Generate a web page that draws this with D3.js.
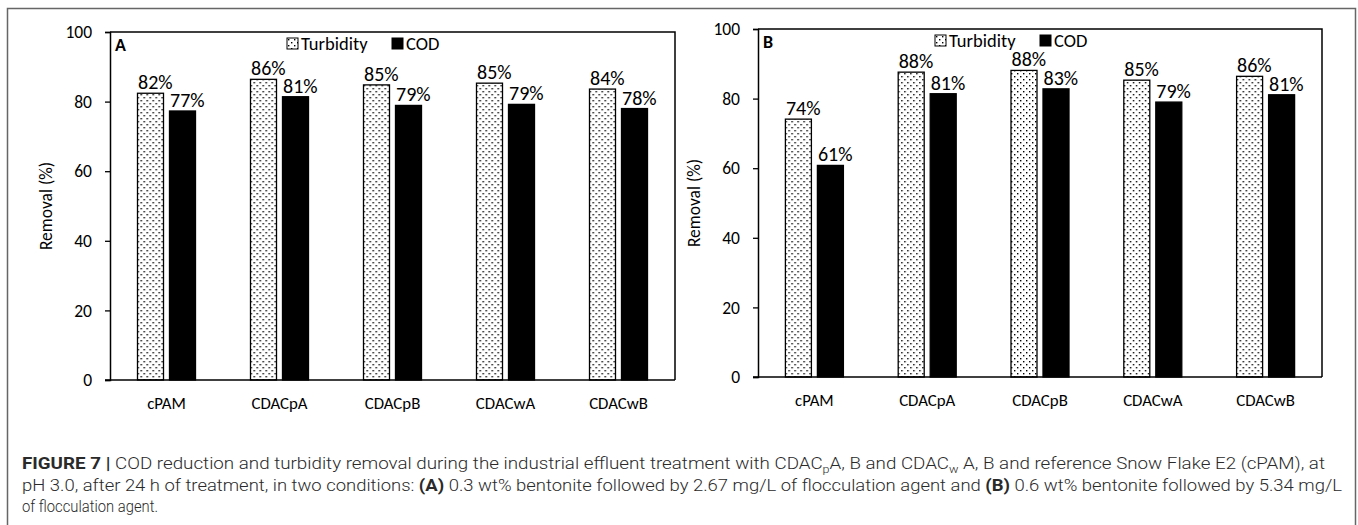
<!DOCTYPE html>
<html>
<head>
<meta charset="utf-8">
<script src="https://cdn.jsdelivr.net/npm/d3@7/dist/d3.min.js"></script>
<style>
  html, body { margin: 0; padding: 0; background: #fff; }
  svg { display: block; }
</style>
</head>
<body>
<svg id="chart" width="1358" height="525"></svg>
<script>
// ---------- data ----------
const categories = ["cPAM", "CDACpA", "CDACpB", "CDACwA", "CDACwB"];
const seriesNames = ["Turbidity", "COD"];
const turbidityA = [82.4, 86.4, 84.8, 85.3, 83.6];
const codA = [77.3, 81.4, 78.9, 79.2, 78.0];
const turbidityB = [74.1, 87.6, 88.1, 85.3, 86.4];
const codB = [60.8, 81.4, 82.8, 79.0, 81.1];
const yTicks = [0, 20, 40, 60, 80, 100];
const yTitle = "Removal (%)";
const panelLabels = ["A", "B"];

const svg = d3.select("#chart");
const chartFont = "Carlito, Lato, 'Open Sans', sans-serif";

// pattern for turbidity bars
const defs = svg.append("defs");
const pat = defs.append("pattern").attr("id", "dots")
  .attr("patternUnits", "userSpaceOnUse").attr("width", 6).attr("height", 6);
pat.append("rect").attr("width", 6).attr("height", 6).attr("fill", "#fff");
pat.append("rect").attr("x", 1).attr("y", 1).attr("width", 1.4).attr("height", 1.4).attr("fill", "#000");
pat.append("rect").attr("x", 4).attr("y", 4).attr("width", 1.4).attr("height", 1.4).attr("fill", "#000");

// outer frame
svg.append("path").attr("d", "M7.5,525 V8.5 H1355.5 V525")
  .attr("fill", "none").attr("stroke", "#666").attr("stroke-width", 1.5);

function drawPanel(cfg) {
  const { left, right, top, bottom, turb, cod, label, titleX } = cfg;
  const g = svg.append("g");
  const x0 = d3.scaleBand().domain(categories).range([left, right]).paddingInner(0).paddingOuter(0);
  const x1 = d3.scaleBand().domain(seriesNames).range([-29, 29]).paddingInner(0.1875);
  const y = d3.scaleLinear().domain([0, 100]).range([bottom, top]);

  // plot box (top & right)
  g.append("path")
    .attr("d", `M${left},${top} H${right} V${bottom}`)
    .attr("fill", "none").attr("stroke", "#000").attr("stroke-width", 1.5);

  // bars
  const data = categories.map((c, i) => ({ c, vals: [turb[i], cod[i]] }));
  const grp = g.selectAll("g.grp").data(data).join("g")
    .attr("transform", d => `translate(${x0(d.c) + x0.bandwidth() / 2},0)`);
  grp.selectAll("rect").data(d => d.vals.map((v, j) => ({ s: seriesNames[j], v })))
    .join("rect")
    .attr("x", d => x1(d.s))
    .attr("y", d => y(d.v))
    .attr("width", x1.bandwidth())
    .attr("height", d => y(0) - y(d.v))
    .attr("fill", d => d.s === "Turbidity" ? "url(#dots)" : "#000")
    .attr("stroke", "#000").attr("stroke-width", 1.3);
  grp.selectAll("text").data(d => d.vals.map((v, j) => ({ s: seriesNames[j], v })))
    .join("text")
    .attr("x", d => x1(d.s) + 0.5)
    .attr("y", d => y(d.v) - 4)
    .attr("font-family", chartFont).attr("font-size", 20).attr("fill", "#000")
    .text(d => Math.round(d.v) + "%");

  // y axis
  const ya = g.append("g").attr("transform", `translate(${left},0)`)
    .call(d3.axisLeft(y).tickValues(yTicks).tickSize(5).tickPadding(13));
  ya.select(".domain").attr("stroke-width", 1.5);
  ya.selectAll(".tick line").attr("stroke-width", 1.3);
  ya.selectAll("text").attr("font-family", chartFont).attr("font-size", 17.5).attr("fill", "#000");

  // x axis
  const xa = g.append("g").attr("transform", `translate(0,${bottom})`)
    .call(d3.axisBottom(x0).tickSize(0).tickPadding(17));
  xa.select(".domain").remove();
  g.append("line").attr("x1", left - 5).attr("x2", right).attr("y1", bottom).attr("y2", bottom)
    .attr("stroke", "#000").attr("stroke-width", 1.5);
  xa.selectAll("text").attr("font-family", chartFont).attr("font-size", 16.8).attr("fill", "#000");

  // y title
  g.append("text").attr("transform", `translate(${titleX},${(top + bottom) / 2}) rotate(-90)`)
    .attr("text-anchor", "middle").attr("font-family", chartFont).attr("font-size", 17.5)
    .text(yTitle);

  // panel label
  g.append("text").attr("x", left + 5).attr("y", top + 19)
    .attr("font-family", chartFont).attr("font-weight", "bold").attr("font-size", 18)
    .text(label);

  // legend
  const lg = g.append("g").attr("transform", `translate(${left + 177},${top + 6})`);
  const items = [{ s: "Turbidity", dx: 0 }, { s: "COD", dx: 105 }];
  items.forEach(it => {
    lg.append("rect").attr("x", it.dx).attr("y", 0).attr("width", 11).attr("height", 11)
      .attr("fill", it.s === "Turbidity" ? "url(#dots)" : "#000")
      .attr("stroke", "#000").attr("stroke-width", 1);
    lg.append("text").attr("x", it.dx + 14).attr("y", 11.5)
      .attr("font-family", chartFont).attr("font-size", 18.5).text(it.s);
  });
}

drawPanel({ left: 110, right: 675, top: 32, bottom: 380, turb: turbidityA, cod: codA, label: panelLabels[0], titleX: 52 });
drawPanel({ left: 758, right: 1322, top: 29, bottom: 377, turb: turbidityB, cod: codB, label: panelLabels[1], titleX: 700 });

// caption
const capFont = "Roboto, 'Liberation Sans', sans-serif";
const cap = svg.append("g").attr("font-family", capFont).attr("font-size", 16.5)
  .attr("font-weight", 300).attr("fill", "#2a2a2a");
const l1 = cap.append("text").attr("x", 22).attr("y", 469)
  .attr("textLength", 1303).attr("lengthAdjust", "spacingAndGlyphs");
l1.append("tspan").attr("font-weight", "bold").text("FIGURE 7 | ");
l1.append("tspan").text("COD reduction and turbidity removal during the industrial effluent treatment with CDAC");
l1.append("tspan").attr("font-size", 11).attr("dy", 4).text("p");
l1.append("tspan").attr("dy", -4).text("A, B and CDAC");
l1.append("tspan").attr("font-size", 11).attr("dy", 4).text("w");
l1.append("tspan").attr("dy", -4).text(" A, B and reference Snow Flake E2 (cPAM), at");
const l2 = cap.append("text").attr("x", 22).attr("y", 491)
  .attr("textLength", 1320).attr("lengthAdjust", "spacingAndGlyphs");
l2.append("tspan").text("pH 3.0, after 24 h of treatment, in two conditions: ");
l2.append("tspan").attr("font-weight", "bold").text("(A)");
l2.append("tspan").text(" 0.3 wt% bentonite followed by 2.67 mg/L of flocculation agent and ");
l2.append("tspan").attr("font-weight", "bold").text("(B)");
l2.append("tspan").text(" 0.6 wt% bentonite followed by 5.34 mg/L");
cap.append("text").attr("x", 22).attr("y", 512)
  .attr("textLength", 136).attr("lengthAdjust", "spacingAndGlyphs")
  .text("of flocculation agent.");
</script>
</body>
</html>
